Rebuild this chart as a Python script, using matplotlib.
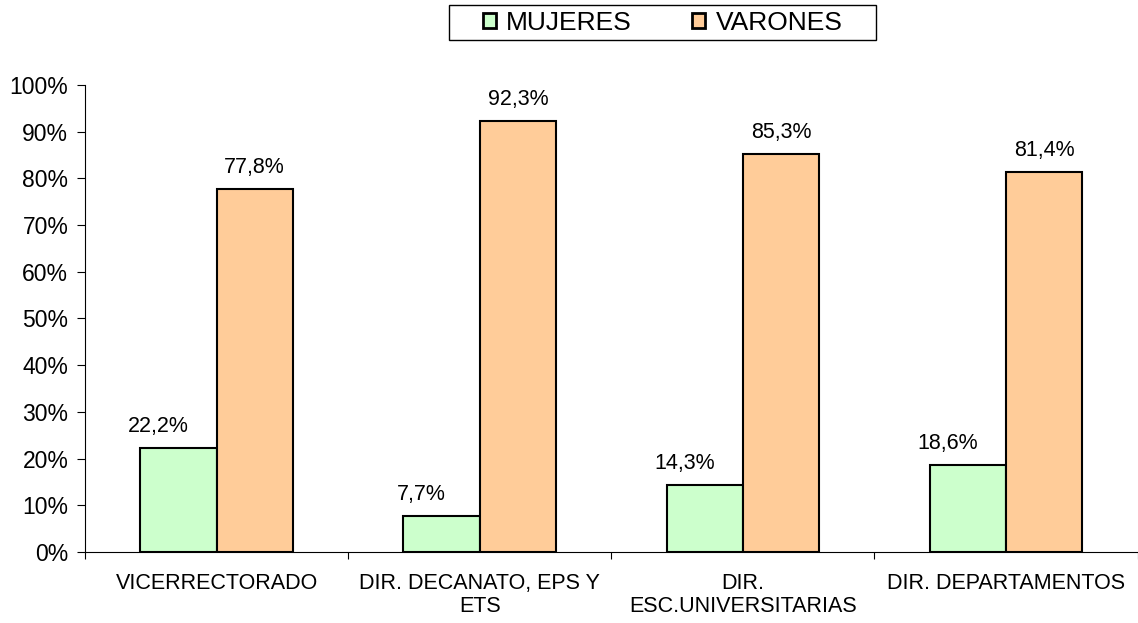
import matplotlib.pyplot as plt
import matplotlib.patches as mpatches
import numpy as np

plt.rcParams['font.family'] = ['Liberation Sans', 'DejaVu Sans']

# categories and values (percent)
categorias = ['VICERRECTORADO', 'DIR. DECANATO, EPS Y\nETS', 'DIR.\nESC.UNIVERSITARIAS', 'DIR. DEPARTAMENTOS']
mujeres = [22.2, 7.7, 14.3, 18.6]
varones = [77.8, 92.3, 85.3, 81.4]

fig = plt.figure(figsize=(11.38, 6.23), dpi=100)
ax = fig.add_axes([0.0747, 0.114, 0.925, 0.7496])

x = np.arange(len(categorias))
w = 0.29
b1 = ax.bar(x - w/2, mujeres, w, color='#ccffcc', edgecolor='black', linewidth=1.5, label='MUJERES')
b2 = ax.bar(x + w/2, varones, w, color='#ffcc99', edgecolor='black', linewidth=1.5, label='VARONES')

# excel puts the green labels a bit to the left
for bars, vals, dx in [(b1, mujeres, -14.5), (b2, varones, 0)]:
    for r, v in zip(bars, vals):
        ax.annotate(f'{v:.1f}%'.replace('.', ','), (r.get_x() + r.get_width()/2, v),
                    xytext=(dx, 11.5), textcoords='offset points',
                    ha='center', va='baseline', fontsize=15.5)

ax.set_xlim(-0.5, len(categorias) - 0.5)
ax.set_ylim(0, 100)
ax.set_yticks(np.arange(0, 101, 10))
ax.set_yticklabels([f'{v}%' for v in range(0, 101, 10)], fontsize=16.5)

# boundary ticks on x, labels at centres
ax.set_xticks(np.arange(-0.5, len(categorias), 1.0))
ax.set_xticklabels([])
ax.set_xticks(x, minor=True)
ax.set_xticklabels(categorias, minor=True, fontsize=15.5, linespacing=1.15)
ax.tick_params(axis='x', which='minor', length=0, pad=15)
ax.tick_params(axis='x', which='major', length=5, direction='out')
ax.tick_params(axis='y', length=6, direction='out', pad=6)

ax.spines['top'].set_visible(False)
ax.spines['right'].set_visible(False)

# legend box drawn by hand, legend itself without frame
fig.patches.append(mpatches.Rectangle((449/1138, 1 - 40/623), 427/1138, 35/623,
                                      transform=fig.transFigure, fill=False,
                                      edgecolor='black', linewidth=1.0))
leg = fig.legend(loc='center', bbox_to_anchor=(662.5/1138, 1 - 22.5/623), ncol=2, fontsize=19,
                 frameon=False, handlelength=0.5, handleheight=0.5,
                 handletextpad=0.38, columnspacing=2.3, borderpad=0)
for h in leg.legend_handles:
    h.set_linewidth(2)

fig.savefig('out.png', dpi=100)
